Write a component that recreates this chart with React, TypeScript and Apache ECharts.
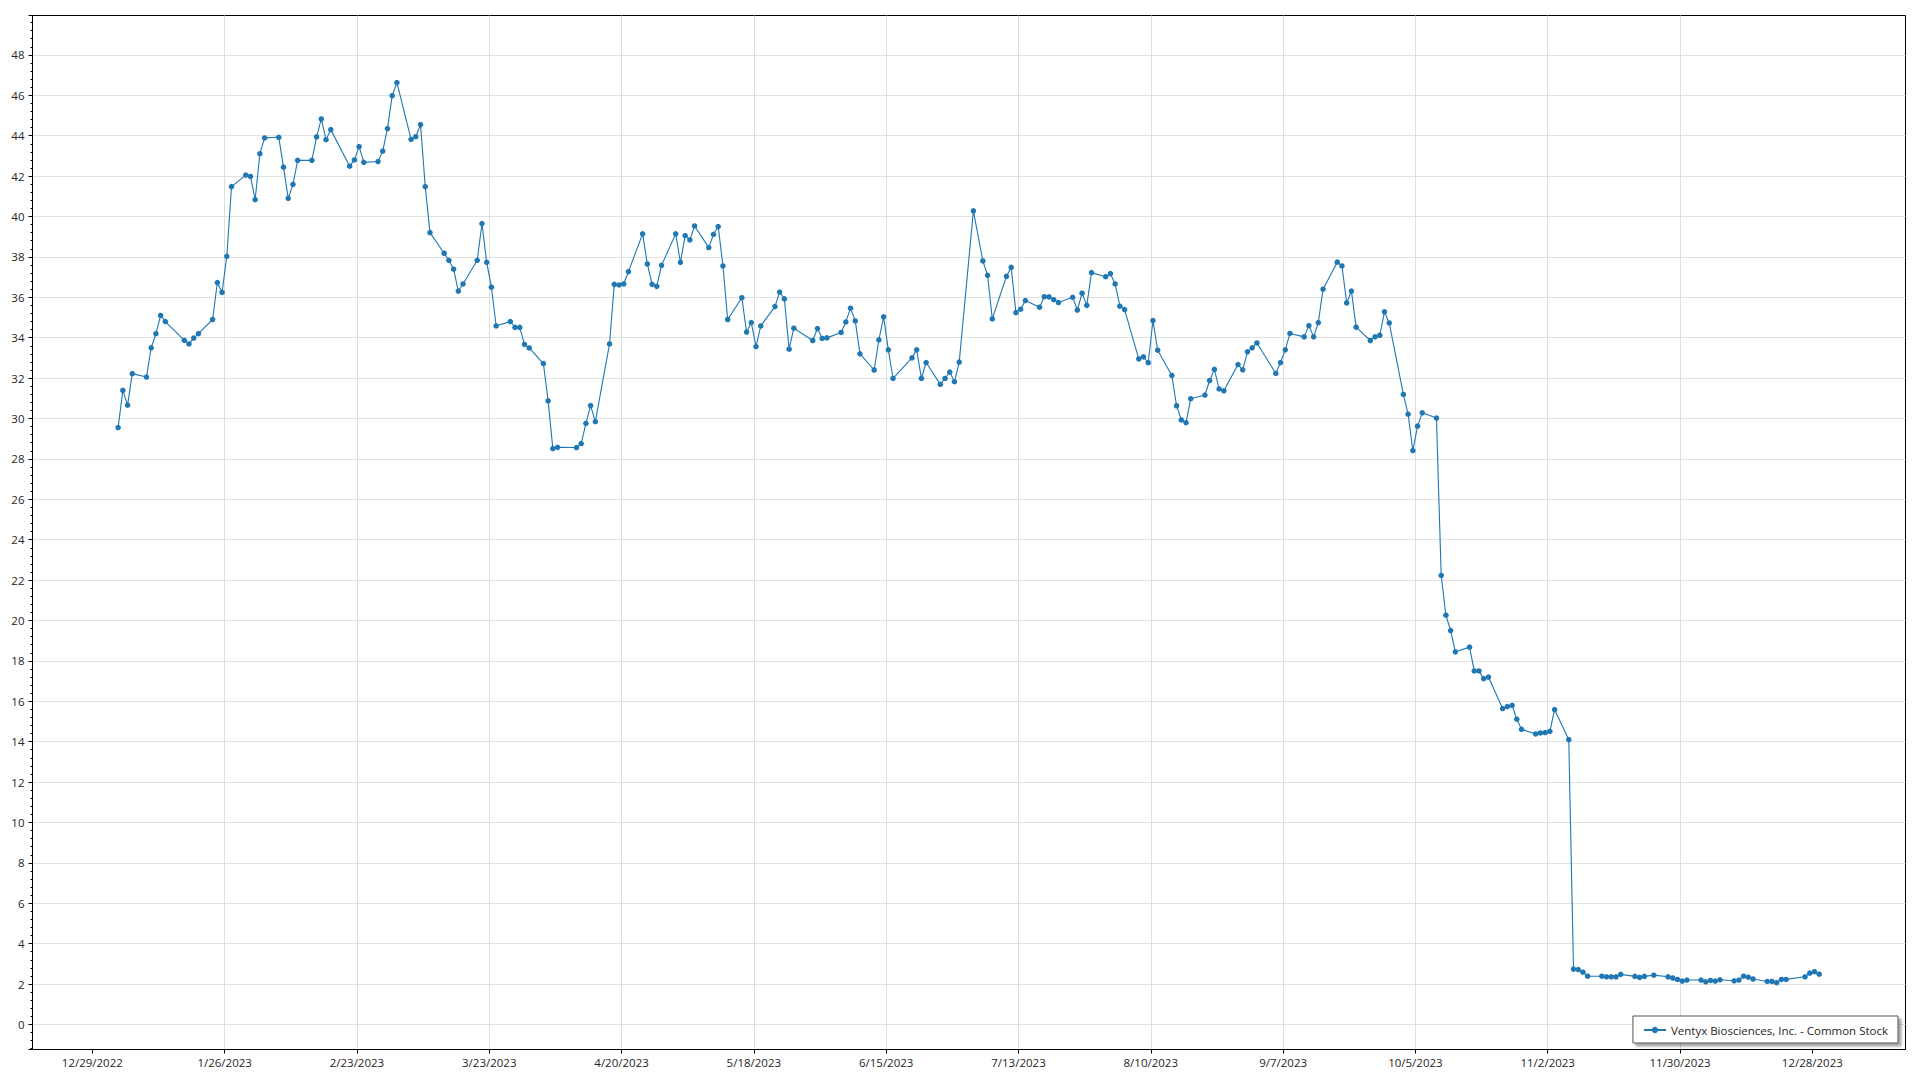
import React, { useEffect, useRef } from "react";
import * as echarts from "echarts";

// ---- Data (2023 daily closes) ----
const seriesName = "Ventyx Biosciences, Inc. - Common Stock";
const year = 2023;

const xTickLabels = [
  "12/29/2022", "1/26/2023", "2/23/2023", "3/23/2023", "4/20/2023", "5/18/2023", "6/15/2023",
  "7/13/2023", "8/10/2023", "9/7/2023", "10/5/2023", "11/2/2023", "11/30/2023", "12/28/2023",
];

const daysJan = [3, 4, 5, 6, 9, 10, 11, 12, 13, 17, 18, 19, 20, 23, 24, 25, 26, 27, 30, 31];
const closeJan = [29.55, 31.39, 30.66, 32.22, 32.05, 33.5, 34.2, 35.1, 34.8, 33.87, 33.69, 33.98, 34.2, 34.9, 36.73, 36.24, 38.03, 41.48, 42.05, 41.98];

const daysFeb = [1, 2, 3, 6, 7, 8, 9, 10, 13, 14, 15, 16, 17, 21, 22, 23, 24, 27, 28];
const closeFeb = [40.83, 43.11, 43.89, 43.92, 42.44, 40.9, 41.59, 42.78, 42.78, 43.94, 44.83, 43.8, 44.3, 42.49, 42.8, 43.46, 42.68, 42.72, 43.24];

const daysMar = [1, 2, 3, 6, 7, 8, 9, 10, 13, 14, 15, 16, 17, 20, 21, 22, 23, 24, 27, 28, 29, 30, 31];
const closeMar = [44.35, 45.98, 46.63, 43.82, 43.95, 44.55, 41.48, 39.2, 38.18, 37.83, 37.39, 36.31, 36.66, 37.83, 39.65, 37.73, 36.5, 34.58, 34.8, 34.51, 34.51, 33.67, 33.49];

const daysApr = [3, 4, 5, 6, 10, 11, 12, 13, 14, 17, 18, 19, 20, 21, 24, 25, 26, 27, 28];
const closeApr = [32.72, 30.87, 28.51, 28.57, 28.56, 28.76, 29.76, 30.64, 29.84, 33.69, 36.64, 36.61, 36.66, 37.27, 39.14, 37.65, 36.64, 36.54, 37.58];

const daysMay = [1, 2, 3, 4, 5, 8, 9, 10, 11, 12, 15, 16, 17, 18, 19, 22, 23, 24, 25, 26, 30, 31];
const closeMay = [39.14, 37.73, 39.05, 38.84, 39.53, 38.46, 39.12, 39.5, 37.55, 34.9, 35.98, 34.28, 34.75, 33.56, 34.58, 35.54, 36.26, 35.92, 33.43, 34.47, 33.86, 34.45];

const daysJun = [1, 2, 5, 6, 7, 8, 9, 12, 13, 14, 15, 16, 20, 21, 22, 23, 26, 27, 28, 29, 30];
const closeJun = [33.96, 33.99, 34.26, 34.78, 35.46, 34.83, 33.2, 32.4, 33.89, 35.03, 33.4, 31.98, 33.0, 33.4, 31.98, 32.77, 31.69, 31.98, 32.3, 31.82, 32.79];

const daysJul = [3, 5, 6, 7, 10, 11, 12, 13, 14, 17, 18, 19, 20, 21, 24, 25, 26, 27, 28, 31];
const closeJul = [40.28, 37.8, 37.09, 34.93, 37.04, 37.48, 35.24, 35.41, 35.84, 35.51, 36.03, 36.02, 35.88, 35.74, 36.0, 35.37, 36.2, 35.6, 37.22, 37.02];

const daysAug = [1, 2, 3, 4, 7, 8, 9, 10, 11, 14, 15, 16, 17, 18, 21, 22, 23, 24, 25, 28, 29, 30, 31];
const closeAug = [37.17, 36.66, 35.56, 35.39, 32.95, 33.05, 32.76, 34.85, 33.38, 32.13, 30.63, 29.93, 29.79, 30.98, 31.16, 31.88, 32.43, 31.46, 31.37, 32.67, 32.41, 33.3, 33.5];

const daysSep = [1, 5, 6, 7, 8, 11, 12, 13, 14, 15, 18, 19, 20, 21, 22, 25, 26, 27, 28, 29];
const closeSep = [33.74, 32.23, 32.77, 33.4, 34.21, 34.04, 34.6, 34.04, 34.75, 36.4, 37.74, 37.55, 35.72, 36.31, 34.52, 33.86, 34.04, 34.12, 35.28, 34.73];

const daysOct = [2, 3, 4, 5, 6, 9, 10, 11, 12, 13, 16, 17, 18, 19, 20, 23, 24, 25, 26, 27, 30, 31];
const closeOct = [31.19, 30.21, 28.41, 29.62, 30.28, 30.02, 22.23, 20.26, 19.5, 18.45, 18.68, 17.5, 17.5, 17.12, 17.2, 15.64, 15.74, 15.8, 15.11, 14.61, 14.38, 14.43];

const daysNov = [1, 2, 3, 6, 7, 8, 9, 10, 13, 14, 15, 16, 17, 20, 21, 22, 24, 27, 28, 29, 30];
const closeNov = [14.45, 14.51, 15.59, 14.1, 2.74, 2.72, 2.59, 2.39, 2.39, 2.36, 2.36, 2.36, 2.48, 2.38, 2.33, 2.38, 2.44, 2.36, 2.3, 2.23, 2.15];

const daysDec = [1, 4, 5, 6, 7, 8, 11, 12, 13, 14, 15, 18, 19, 20, 21, 22, 26, 27, 28, 29];
const closeDec = [2.2, 2.2, 2.11, 2.18, 2.15, 2.21, 2.16, 2.2, 2.39, 2.34, 2.25, 2.13, 2.13, 2.07, 2.23, 2.23, 2.36, 2.54, 2.61, 2.49];

const monthDays = [daysJan, daysFeb, daysMar, daysApr, daysMay, daysJun, daysJul, daysAug, daysSep, daysOct, daysNov, daysDec];
const monthCloses = [closeJan, closeFeb, closeMar, closeApr, closeMay, closeJun, closeJul, closeAug, closeSep, closeOct, closeNov, closeDec];

// ---- helpers ----
const DAY_MS = 86400000;
const parseLabel = (s: string) => {
  const [m, d, y] = s.split("/").map(Number);
  return Date.UTC(y, m - 1, d);
};
const fmtDate = (v: number) => {
  const d = new Date(v);
  return `${d.getUTCMonth() + 1}/${d.getUTCDate()}/${d.getUTCFullYear()}`;
};

const FONT = "'Segoe UI', 'Open Sans', 'Noto Sans', sans-serif";

export default function App() {
  const ref = useRef<HTMLDivElement>(null);

  useEffect(() => {
    if (!ref.current) return;
    const chart = echarts.init(ref.current, undefined, { renderer: "svg" });

    const data: [number, number][] = [];
    monthDays.forEach((days, mi) => {
      days.forEach((d, i) => {
        data.push([Date.UTC(year, mi, d, 11), monthCloses[mi][i]]);
      });
    });

    const tickValues = xTickLabels.map(parseLabel);
    const xMin = tickValues[0] - 12.66 * DAY_MS;
    const xMax = tickValues[tickValues.length - 1] + 19.72 * DAY_MS;

    chart.setOption({
      animation: false,
      backgroundColor: "#ffffff",
      textStyle: { fontFamily: FONT },
      grid: {
        left: 32.5,
        right: 14.5,
        top: 15.5,
        bottom: 30.5,
        containLabel: false,
        show: true,
        borderColor: "#000000",
        borderWidth: 1,
        backgroundColor: "#ffffff",
      },
      xAxis: {
        type: "value",
        min: xMin,
        max: xMax,
        axisLine: { show: true, onZero: false, lineStyle: { color: "#000000", width: 1 } },
        axisTick: { show: true, length: 4, customValues: tickValues, lineStyle: { color: "#000000" } },
        axisLabel: {
          customValues: tickValues,
          formatter: (v: number) => fmtDate(v),
          margin: 7,
          fontSize: 11.5,
          color: "#262626",
          fontFamily: FONT,
          showMinLabel: true,
          showMaxLabel: true,
        },
        splitLine: { show: true, showMinLine: false, showMaxLine: false, lineStyle: { color: "#dedede", width: 1 } },
      },
      yAxis: {
        type: "value",
        min: -1.24,
        max: 49.95,
        splitNumber: 25,
        minInterval: 2,
        maxInterval: 2,
        axisLine: { show: true, onZero: false, lineStyle: { color: "#000000", width: 1 } },
        axisTick: { show: true, length: 4, lineStyle: { color: "#000000" } },
        minorTick: { show: true, splitNumber: 5, length: 2, lineStyle: { color: "#000000" } },
        axisLabel: {
          margin: 8,
          fontSize: 11.5,
          color: "#262626",
          fontFamily: FONT,
          showMinLabel: false,
          showMaxLabel: false,
        },
        splitLine: { show: true, showMinLine: false, showMaxLine: false, lineStyle: { color: "#e2e2e2", width: 1 } },
      },
      legend: {
        show: true,
        right: 22,
        bottom: 37,
        orient: "horizontal",
        backgroundColor: "#ffffff",
        borderColor: "#555555",
        borderWidth: 1,
        borderRadius: 0,
        padding: [8, 10, 7, 10],
        itemWidth: 22,
        itemHeight: 8,
        itemGap: 4,
        shadowColor: "rgba(0,0,0,0.35)",
        shadowBlur: 2,
        shadowOffsetX: 3,
        shadowOffsetY: 3,
        textStyle: { fontSize: 11.5, color: "#262626", fontFamily: FONT },
        data: [seriesName],
      },
      series: [
        {
          name: seriesName,
          type: "line",
          data,
          showSymbol: true,
          showAllSymbol: true,
          symbol: "circle",
          symbolSize: 5.5,
          lineStyle: { color: "#1f77b4", width: 1.1 },
          itemStyle: { color: "#1f77b4" },
          emphasis: { disabled: true },
        },
      ],
    });

    return () => chart.dispose();
  }, []);

  return (
    <div
      ref={ref}
      style={{ position: "fixed", left: 0, top: 0, width: 1920, height: 1080, background: "#fff" }}
    />
  );
}
